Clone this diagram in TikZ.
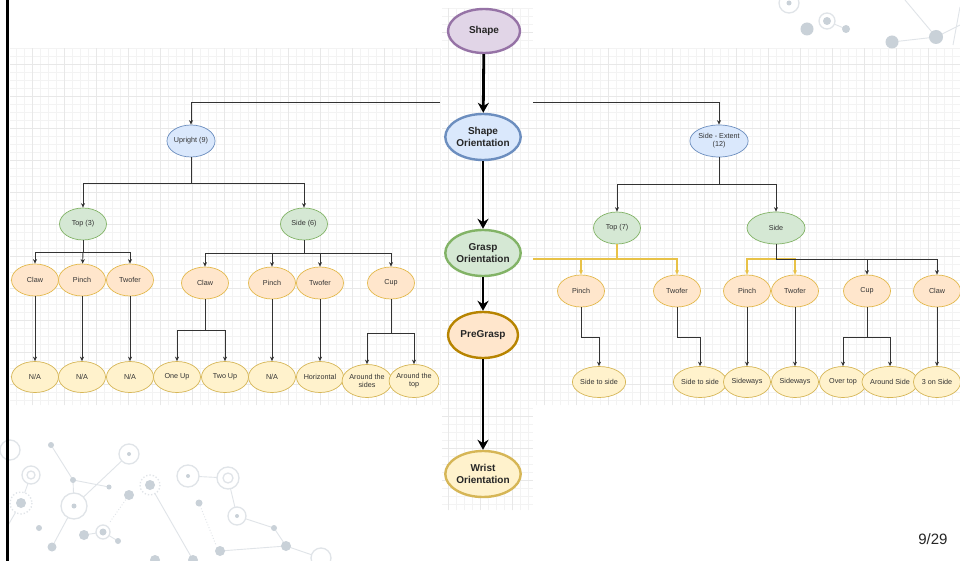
\documentclass[tikz,border=0pt]{standalone}
\usepackage{fontspec}
\setmainfont{Liberation Sans}
\usetikzlibrary{shapes.geometric,arrows.meta,calc}
\definecolor{pfill}{HTML}{E1D5E7}\definecolor{pdraw}{HTML}{9673A6}
\definecolor{bfill}{HTML}{DAE8FC}\definecolor{bdraw}{HTML}{6C8EBF}
\definecolor{gfill}{HTML}{D5E8D4}\definecolor{gdraw}{HTML}{82B366}
\definecolor{ofill}{HTML}{FFE6CC}\definecolor{odraw}{HTML}{D79B00}
\definecolor{yfill}{HTML}{FFF2CC}\definecolor{ydraw}{HTML}{D6B656}
\definecolor{ylinec}{HTML}{E8C248}
\definecolor{decdotc}{HTML}{C9D1D8}\definecolor{decringc}{HTML}{E0E4E8}
\definecolor{gridc}{HTML}{F3F3F3}\definecolor{gridm}{HTML}{E8E8E8}
\tikzset{
  mainnode/.style={ellipse, line width=2.4pt, inner sep=0pt, align=center,
     minimum width=70pt, minimum height=45pt, text=black!85,
     font=\bfseries\fontsize{10}{11.5}\selectfont},
  small/.style={ellipse, line width=0.7pt, inner sep=0pt, align=center,
     minimum width=47pt, minimum height=32pt, text=black!80,
     font=\fontsize{7.2}{8.2}\selectfont},
  bnode/.style={small, fill=bfill, draw=bdraw},
  gnode/.style={small, fill=gfill, draw=gdraw},
  onode/.style={small, fill=ofill, draw=odraw!70},
  ynode/.style={small, fill=yfill, draw=ydraw},
  wire/.style={draw=black!80, line width=0.9pt},
  conn/.style={wire, -{Stealth[length=4.5pt,width=4pt]}},
  ywire/.style={draw=ylinec, line width=1.1pt},
  yconn/.style={ywire, -{Stealth[length=4.5pt,width=4pt]}},
  bigarrow/.style={draw=black, line width=2.8pt, -{Stealth[length=10pt,width=11pt]}},
  gridminor/.style={draw=gridc, line width=0.35pt},
  gridmajor/.style={draw=gridm, line width=0.45pt},
  decdot/.style={fill=decdotc, draw=none},
  decring/.style={draw=decringc, line width=1.3pt, fill=white},
  decline/.style={draw=decringc, line width=0.9pt},
}
\begin{document}
\begin{tikzpicture}[x=1pt,y=-1pt]
\useasboundingbox (0,0) rectangle (960,561);
\fill[white] (0,0) rectangle (960,561);
% grids
\draw[gridminor, step=8pt] (10,48) grid (440,405);
\draw[gridmajor, step=32pt] (10,48) grid (440,405);
\draw[gridminor, step=8pt] (442,8) grid (533,510);
\draw[gridmajor, step=32pt] (442,8) grid (533,510);
\draw[gridminor, step=8pt] (533,48) grid (960,405);
\draw[gridmajor, step=32pt] (533,48) grid (960,405);
% decorations bottom-left
\draw[decline] (51,445)--(73,480) (73,480)--(109,487) (129,454)--(74,506) (73,480)--(74,506)
  (31,475)--(21,503) (74,506)--(52,547) (150,485)--(193,560) (188,476)--(228,478)
  (228,478)--(237,516) (237,516)--(274,528) (274,528)--(286,546) (220,551)--(286,546)
  (286,546)--(321,558) (84,535)--(103,532)--(118,541) (7,527)--(21,503);
\draw[decline, dotted] (199,503)--(216,545) (129,495)--(110,522);
\draw[decring] (10,450) circle (10);
\draw[decring] (31,475) circle (9); \draw[decring] (31,475) circle (4);
\draw[decring] (129,454) circle (10); \fill[decdot] (129,454) circle (2);
\draw[decring] (74,506) circle (13); \fill[decdot] (74,506) circle (2.5);
\draw[decring, dotted] (21,503) circle (11); \fill[decdot] (21,503) circle (5);
\draw[decring, dotted] (150,485) circle (10); \fill[decdot] (150,485) circle (5);
\draw[decring] (188,476) circle (11); \fill[decdot] (188,476) circle (2);
\draw[decring] (228,478) circle (11); \draw[decring] (228,478) circle (5);
\draw[decring] (237,516) circle (9); \fill[decdot] (237,516) circle (2);
\draw[decring] (103,532) circle (7); \fill[decdot] (103,532) circle (3.5);
\draw[decring] (321,558) circle (10);
\foreach \p/\r in {{(51,445)}/3,{(73,480)}/3,{(109,487)}/2.5,{(129,495)}/5,{(199,503)}/3.5,
  {(274,528)}/3,{(286,546)}/5,{(220,551)}/5,{(39,528)}/3,{(52,547)}/4.5,{(84,535)}/5,
  {(118,541)}/3,{(155,560)}/5,{(193,560)}/5}
  \fill[decdot] \p circle (\r);
% decorations top-right
\draw[decline] (827,21)--(846,29) (892,42)--(936,37) (936,37)--(905,0) (936,37)--(960,25) (960,7)--(953,45);
\draw[decring] (789,3) circle (10); \fill[decdot] (789,3) circle (2.5);
\draw[decring] (827,21) circle (8); \fill[decdot] (827,21) circle (4);
\fill[decdot] (807,29) circle (6.5);
\fill[decdot] (846,29) circle (4);
\fill[decdot] (892,42) circle (6.5);
\fill[decdot] (936,37) circle (7);
% left border
\draw[line width=2.5pt] (7.5,0) -- (7.5,561);

% center column
\node[mainnode, fill=pfill, draw=pdraw, minimum width=72pt, minimum height=44pt] (shape) at (484,31) {Shape};
\node[mainnode, fill=bfill, draw=bdraw, minimum width=68pt, minimum height=46pt] (shor) at (483,137) {Shape\\Orientation};
\node[mainnode, fill=gfill, draw=gdraw, minimum width=68pt, minimum height=46pt] (gror) at (483,253) {Grasp\\Orientation};
\node[mainnode, fill=ofill, draw=odraw!85!black, minimum width=70pt, minimum height=46pt] (pregrasp) at (483,335) {PreGrasp};
\node[mainnode, fill=yfill, draw=ydraw, minimum width=70pt, minimum height=46pt] (wrist) at (483,474) {Wrist\\Orientation};
\draw[bigarrow] (shape) -- (shor);
\draw[bigarrow] (shor) -- (gror);
\draw[bigarrow] (gror) -- (pregrasp);
\draw[bigarrow] (pregrasp) -- (wrist);

% left tree
\node[bnode] (upright) at (191,141) {Upright (9)};
\node[gnode] (ltop) at (83,224) {Top (3)};
\node[gnode] (lside) at (304,224) {Side (6)};
\node[onode] (lclawA) at (35,280) {Claw};
\node[onode] (lpinchA) at (82,280) {Pinch};
\node[onode] (ltwoferA) at (130,280) {Twofer};
\node[onode] (lclawB) at (205,283) {Claw};
\node[onode] (lpinchB) at (272,283) {Pinch};
\node[onode] (ltwoferB) at (320,283) {Twofer};
\node[onode] (lcup) at (391,283) {Cup};
\node[ynode, minimum height=31pt] (na1) at (35,377) {N/A};
\node[ynode, minimum height=31pt] (na2) at (82,377) {N/A};
\node[ynode, minimum height=31pt] (na3) at (130,377) {N/A};
\node[ynode, minimum height=31pt] (oneup) at (177,377) {One Up};
\node[ynode, minimum height=31pt] (twoup) at (225,377) {Two Up};
\node[ynode, minimum height=31pt] (na4) at (272,377) {N/A};
\node[ynode, minimum height=31pt] (horiz) at (320,377) {Horizontal};
\node[ynode, minimum height=33pt] (aroundsides) at (367,381) {Around the\\sides};
\node[ynode, minimum height=33pt] (aroundtop) at (414,381) {Around the\\top};

\coordinate (jl) at (440,102);
\draw[conn] (jl) -| (upright);
\coordinate (bu) at (191,183);
\draw[wire] (upright) -- (bu);
\draw[conn] (bu) -| (ltop);
\draw[conn] (bu) -| (lside);
\coordinate (bt) at (83,252);
\draw[wire] (ltop) -- (bt);
\draw[conn] (bt) -| (lclawA);
\draw[conn] (bt) -- (lpinchA);
\draw[conn] (bt) -| (ltwoferA);
\coordinate (bs) at (304,253);
\draw[wire] (lside) -- (bs);
\draw[conn] (bs) -| (lclawB);
\draw[conn] (bs) -| (lpinchB);
\draw[conn] (bs) -| (ltwoferB);
\draw[conn] (bs) -| (lcup);
\draw[conn] (lclawA) -- (na1);
\draw[conn] (lpinchA) -- (na2);
\draw[conn] (ltwoferA) -- (na3);
\coordinate (bc) at (205,330);
\draw[wire] (lclawB) -- (bc);
\draw[conn] (bc) -| (oneup);
\draw[conn] (bc) -| (twoup);
\draw[conn] (lpinchB) -- (na4);
\draw[conn] (ltwoferB) -- (horiz);
\coordinate (bcup) at (391,333);
\draw[wire] (lcup) -- (bcup);
\draw[conn] (bcup) -| (aroundsides);
\draw[conn] (bcup) -| (aroundtop);

% right tree
\node[bnode] (sideext) at (719,141) {Side - Extent\\(12)};
\node[gnode] (rtop) at (617,228) {Top (7)};
\node[gnode, minimum width=58pt] (rside) at (776,228) {Side};
\node[onode] (rpinchA) at (581,291) {Pinch};
\node[onode] (rtwoferA) at (677,291) {Twofer};
\node[onode] (rpinchB) at (747,291) {Pinch};
\node[onode] (rtwoferB) at (795,291) {Twofer};
\node[onode] (rcup) at (867,291) {Cup};
\node[onode] (rclaw) at (937,291) {Claw};
\node[ynode, minimum height=31pt] (sts1) at (599,382) {Side to side};
\node[ynode, minimum height=31pt] (sts2) at (700,382) {Side to side};
\node[ynode, minimum height=31pt] (sw1) at (747,382) {Sideways};
\node[ynode, minimum height=31pt] (sw2) at (795,382) {Sideways};
\node[ynode, minimum height=31pt] (overtop) at (843,382) {Over top};
\node[ynode, minimum height=31pt] (aroundside) at (890,382) {Around Side};
\node[ynode, minimum height=31pt] (threeside) at (937,382) {3 on Side};

\coordinate (jr) at (533,102);
\draw[conn] (jr) -| (sideext);
\coordinate (be) at (719,184);
\draw[wire] (sideext) -- (be);
\draw[conn] (be) -| (rtop);
\draw[conn] (be) -| (rside);
\coordinate (ty) at (533,259);
\coordinate (bty) at (617,259);
\draw[ywire] (rtop) -- (bty);
\draw[yconn] (ty) -| (rtwoferA);
\draw[yconn] (bty) -| (rpinchA);
\coordinate (bsr) at (776,259);
\draw[yconn] (bsr) -| (rpinchB);
\draw[yconn] (bsr) -| (rtwoferB);
\draw[wire] (rside) -- (bsr);
\draw[conn] (bsr) -| (rcup);
\draw[conn] (bsr) -| (rclaw);
\coordinate (k1) at (581,337);
\draw[conn] (rpinchA) -- (k1) -| (sts1);
\coordinate (k2) at (677,337);
\draw[conn] (rtwoferA) -- (k2) -| (sts2);
\draw[conn] (rpinchB) -- (sw1);
\draw[conn] (rtwoferB) -- (sw2);
\coordinate (k3) at (867,337);
\draw[wire] (rcup) -- (k3);
\draw[conn] (k3) -| (overtop);
\draw[conn] (k3) -| (aroundside);
\draw[conn] (rclaw) -- (threeside);

% page number
\node[font=\fontsize{15}{17}\selectfont, text=black!85, anchor=east] (pg) at (951,539) {9/29};
\end{tikzpicture}
\end{document}
